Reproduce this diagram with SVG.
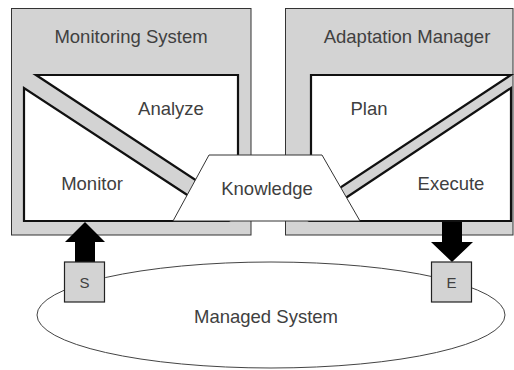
<svg xmlns="http://www.w3.org/2000/svg" width="514" height="370" viewBox="0 0 514 370">
  <style>
    .outer { fill: #d3d3d3; stroke: #333333; stroke-width: 1; }
    .part { fill: #ffffff; stroke: #111111; stroke-width: 2.2; stroke-linejoin: miter; }
    .label { font-family: "Liberation Sans", Arial, sans-serif; font-size: 18.5px; fill: #404040; text-anchor: middle; }
    .small { font-size: 15px; }
    .probe { fill: #d3d3d3; stroke: #222222; stroke-width: 1.2; }
    .flow { fill: #000000; stroke: none; }
    .thin { fill: #ffffff; stroke: #333333; stroke-width: 1; }
  </style>

  <!-- Monitoring System container -->
  <g id="monitoring-system">
    <rect class="outer" x="11.5" y="8.5" width="239.5" height="226.5"/>
    <text class="label" x="131" y="43">Monitoring System</text>
  </g>

  <!-- Adaptation Manager container -->
  <g id="adaptation-manager">
    <rect class="outer" x="285.5" y="8.5" width="227.5" height="226.5"/>
    <text class="label" x="407" y="43">Adaptation Manager</text>
  </g>

  <!-- MAPE parts -->
  <g id="monitor">
    <polygon class="part" points="24,88 24,221 227,221"/>
    <text class="label" x="92" y="189.5">Monitor</text>
  </g>
  <g id="analyze">
    <polygon class="part" points="36,75 238,75 238,208"/>
    <text class="label" x="171" y="115">Analyze</text>
  </g>
  <g id="plan">
    <polygon class="part" points="311,75 511,75 311,207"/>
    <text class="label" x="369" y="115">Plan</text>
  </g>
  <g id="execute">
    <polygon class="part" points="511,88 511,221 311,221"/>
    <text class="label" x="451" y="189.5">Execute</text>
  </g>

  <!-- Shared knowledge -->
  <g id="knowledge">
    <polygon class="thin" points="209,155 322,155 360,221 173,221"/>
    <text class="label" x="267" y="195">Knowledge</text>
  </g>

  <!-- Managed system -->
  <g id="managed-system">
    <ellipse cx="271" cy="315" rx="234" ry="53" fill="#ffffff" stroke="#444444" stroke-width="1"/>
    <text class="label" x="266" y="323">Managed System</text>
  </g>

  <!-- Data flow arrows -->
  <g id="connectors">
    <polygon class="flow" points="85,222 105,242 95,242 95,262 75,262 75,242 65,242"/>
    <polygon class="flow" points="442,222 462,222 462,242 473,242 452,262 431,242 442,242"/>
  </g>

  <!-- Sensor and effector -->
  <g id="sensor">
    <rect class="probe" x="64.5" y="262" width="40" height="40"/>
    <text class="label small" x="84.5" y="287.5">S</text>
  </g>
  <g id="effector">
    <rect class="probe" x="431.5" y="262" width="40" height="40"/>
    <text class="label small" x="451.5" y="287.5">E</text>
  </g>
</svg>
